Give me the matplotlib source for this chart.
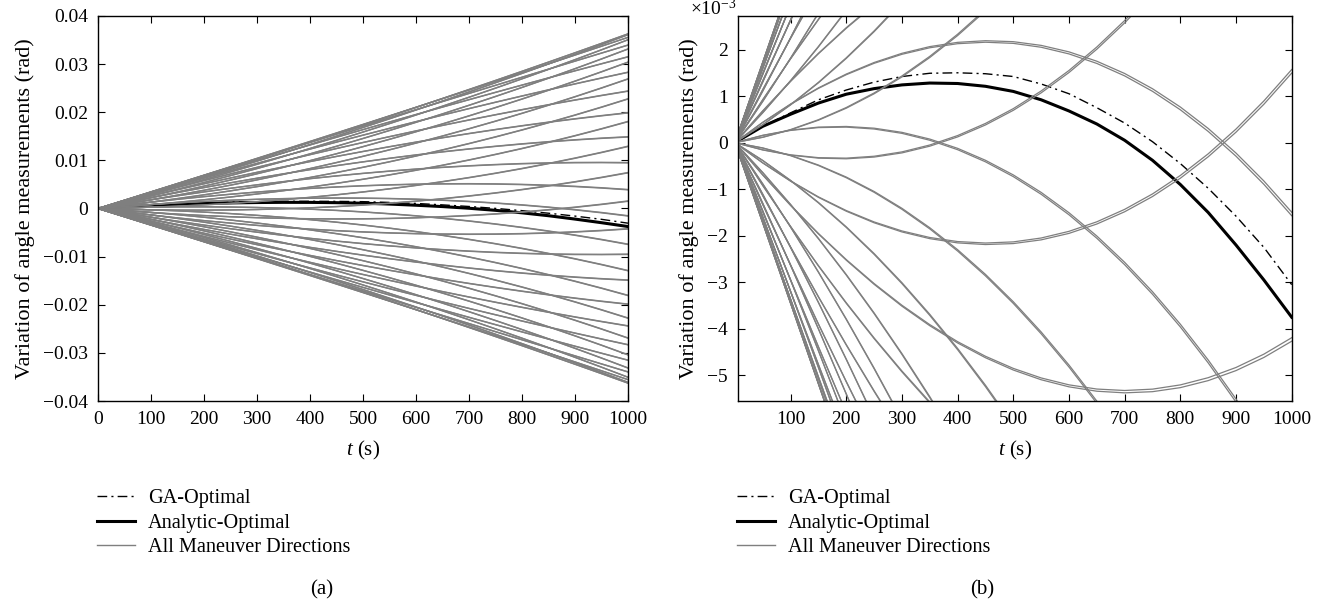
"""Angle-measurement variation for all maneuver directions, full view and zoom."""

import matplotlib.pyplot as plt
import numpy as np
from matplotlib.lines import Line2D
from matplotlib.ticker import FuncFormatter

plt.rcParams["font.family"] = ["Liberation Serif", "DejaVu Serif"]
plt.rcParams["mathtext.fontset"] = "custom"
plt.rcParams["mathtext.it"] = "Liberation Serif:italic"
plt.rcParams["mathtext.rm"] = "Liberation Serif"
plt.rcParams["font.size"] = 14

GRAY = "#7f7f7f"

# time samples (s)
TIME_S = [0, 50, 100, 150, 200, 250, 300, 350, 400, 450, 500,
          550, 600, 650, 700, 750, 800, 850, 900, 950, 1000]

# the two components every maneuver direction is a mix of (x1e-3 rad)
LINEAR_PART = [0.00, 1.73, 3.46, 5.19, 6.92, 8.65, 10.38, 12.11, 13.84, 15.57, 17.30,
               19.03, 20.76, 22.49, 24.22, 25.95, 27.68, 29.41, 31.14, 32.87, 34.60]
CURVED_PART = [0.000, -0.023, -0.093, -0.210, -0.378, -0.597, -0.869, -1.196, -1.578,
               -2.018, -2.516, -3.075, -3.696, -4.381, -5.131, -5.947, -6.831, -7.785,
               -8.810, -9.908, -11.080]

# maneuver directions (deg); each drawn with a near twin
DIRECTION_DEG = [3, 12, 21, 30, 39, 48, 57, 66, 74.6, 84,
                 93, 102, 111, 120, 129, 138, 147, 156, 165, 174,
                 183, 192, 201, 210, 219, 228, 237, 245.5, 254.6, 264,
                 273, 282, 291, 300, 309, 318, 327, 336, 345, 354]
TWIN_OFFSET_DEG = 0.12

# optimal solutions (x1e-3 rad)
ANALYTIC_OPT = [0.00, 0.35, 0.61, 0.85, 1.04, 1.16, 1.24, 1.28, 1.27, 1.21, 1.10,
                0.92, 0.68, 0.40, 0.05, -0.38, -0.90, -1.50, -2.20, -2.95, -3.75]
GA_OPT = [0.00, 0.35, 0.64, 0.92, 1.13, 1.30, 1.42, 1.49, 1.50, 1.48, 1.42,
          1.26, 1.05, 0.75, 0.42, 0.02, -0.45, -0.98, -1.58, -2.25, -3.05]

t = np.array(TIME_S)
lin = np.array(LINEAR_PART)
cur = np.array(CURVED_PART)

curves = []
for d in DIRECTION_DEG:
    for th in (d, d + TWIN_OFFSET_DEG):
        a = np.deg2rad(th)
        curves.append(np.cos(a) * lin + np.sin(a) * cur)


def minus_fmt(v, _pos):
    return f"{round(v, 3):g}".replace("-", "\u2212")


fig = plt.figure(figsize=(13.24, 6.01), dpi=100)
W, H = 1324, 601
ax1 = fig.add_axes([98 / W, 1 - 401 / H, 530 / W, 385 / H])
ax2 = fig.add_axes([737.7 / W, 1 - 401 / H, 554 / W, 385 / H])

for ax, scale, lw in ((ax1, 1e-3, 1.0), (ax2, 1.0, 0.9)):
    ax.plot(t, np.array(GA_OPT) * scale, color="black", lw=1.0,
            ls=(0, (7, 3, 1.5, 3)))
    ax.plot(t, np.array(ANALYTIC_OPT) * scale, color="black", lw=2.2)
    for y in curves:
        ax.plot(t, y * scale, color=GRAY, lw=lw)
    ax.tick_params(direction="in", top=True, right=True, length=5, width=0.8,
                   labelsize=14, pad=7)
    for s in ax.spines.values():
        s.set_linewidth(1.0)
    ax.set_xlabel("$t$ (s)", fontsize=15, labelpad=8)
    ax.set_ylabel("Variation of angle measurements (rad)", fontsize=16,
                  labelpad=6)
    ax.yaxis.set_major_formatter(FuncFormatter(minus_fmt))

ax1.set_xlim(0, 1000)
ax1.set_ylim(-0.04, 0.04)
ax1.set_xticks(np.arange(0, 1001, 100))
ax1.set_yticks(np.arange(-0.04, 0.041, 0.01))

ax2.set_xlim(5, 1000)
ax2.set_ylim(-5.55, 2.72)
ax2.set_xticks(np.arange(100, 1001, 100))
ax2.set_yticks(np.arange(-5, 3, 1))
fig.text(690 / W, 1 - 15 / H, "\u00d710$^{\u22123}$", fontsize=14,
         ha="left", va="baseline")

handles = [
    Line2D([], [], color="black", lw=1.0, ls=(0, (7, 3, 1.5, 3))),
    Line2D([], [], color="black", lw=2.2),
    Line2D([], [], color=GRAY, lw=1.0),
]
labels = ["GA-Optimal", "Analytic-Optimal", "All Maneuver Directions"]
for x0 in (97, 737):
    fig.legend(handles, labels, loc="upper left",
               bbox_to_anchor=(x0 / W, 1 - 489 / H), frameon=False,
               fontsize=14.6, handlelength=1.85, handletextpad=0.65,
               labelspacing=0.26, borderpad=0, borderaxespad=0)

fig.text(322 / W, 1 - 590 / H, "(a)", ha="center", va="center", fontsize=15)
fig.text(982 / W, 1 - 590 / H, "(b)", ha="center", va="center", fontsize=15)

fig.savefig("out.png", dpi=100)
plt.close(fig)
